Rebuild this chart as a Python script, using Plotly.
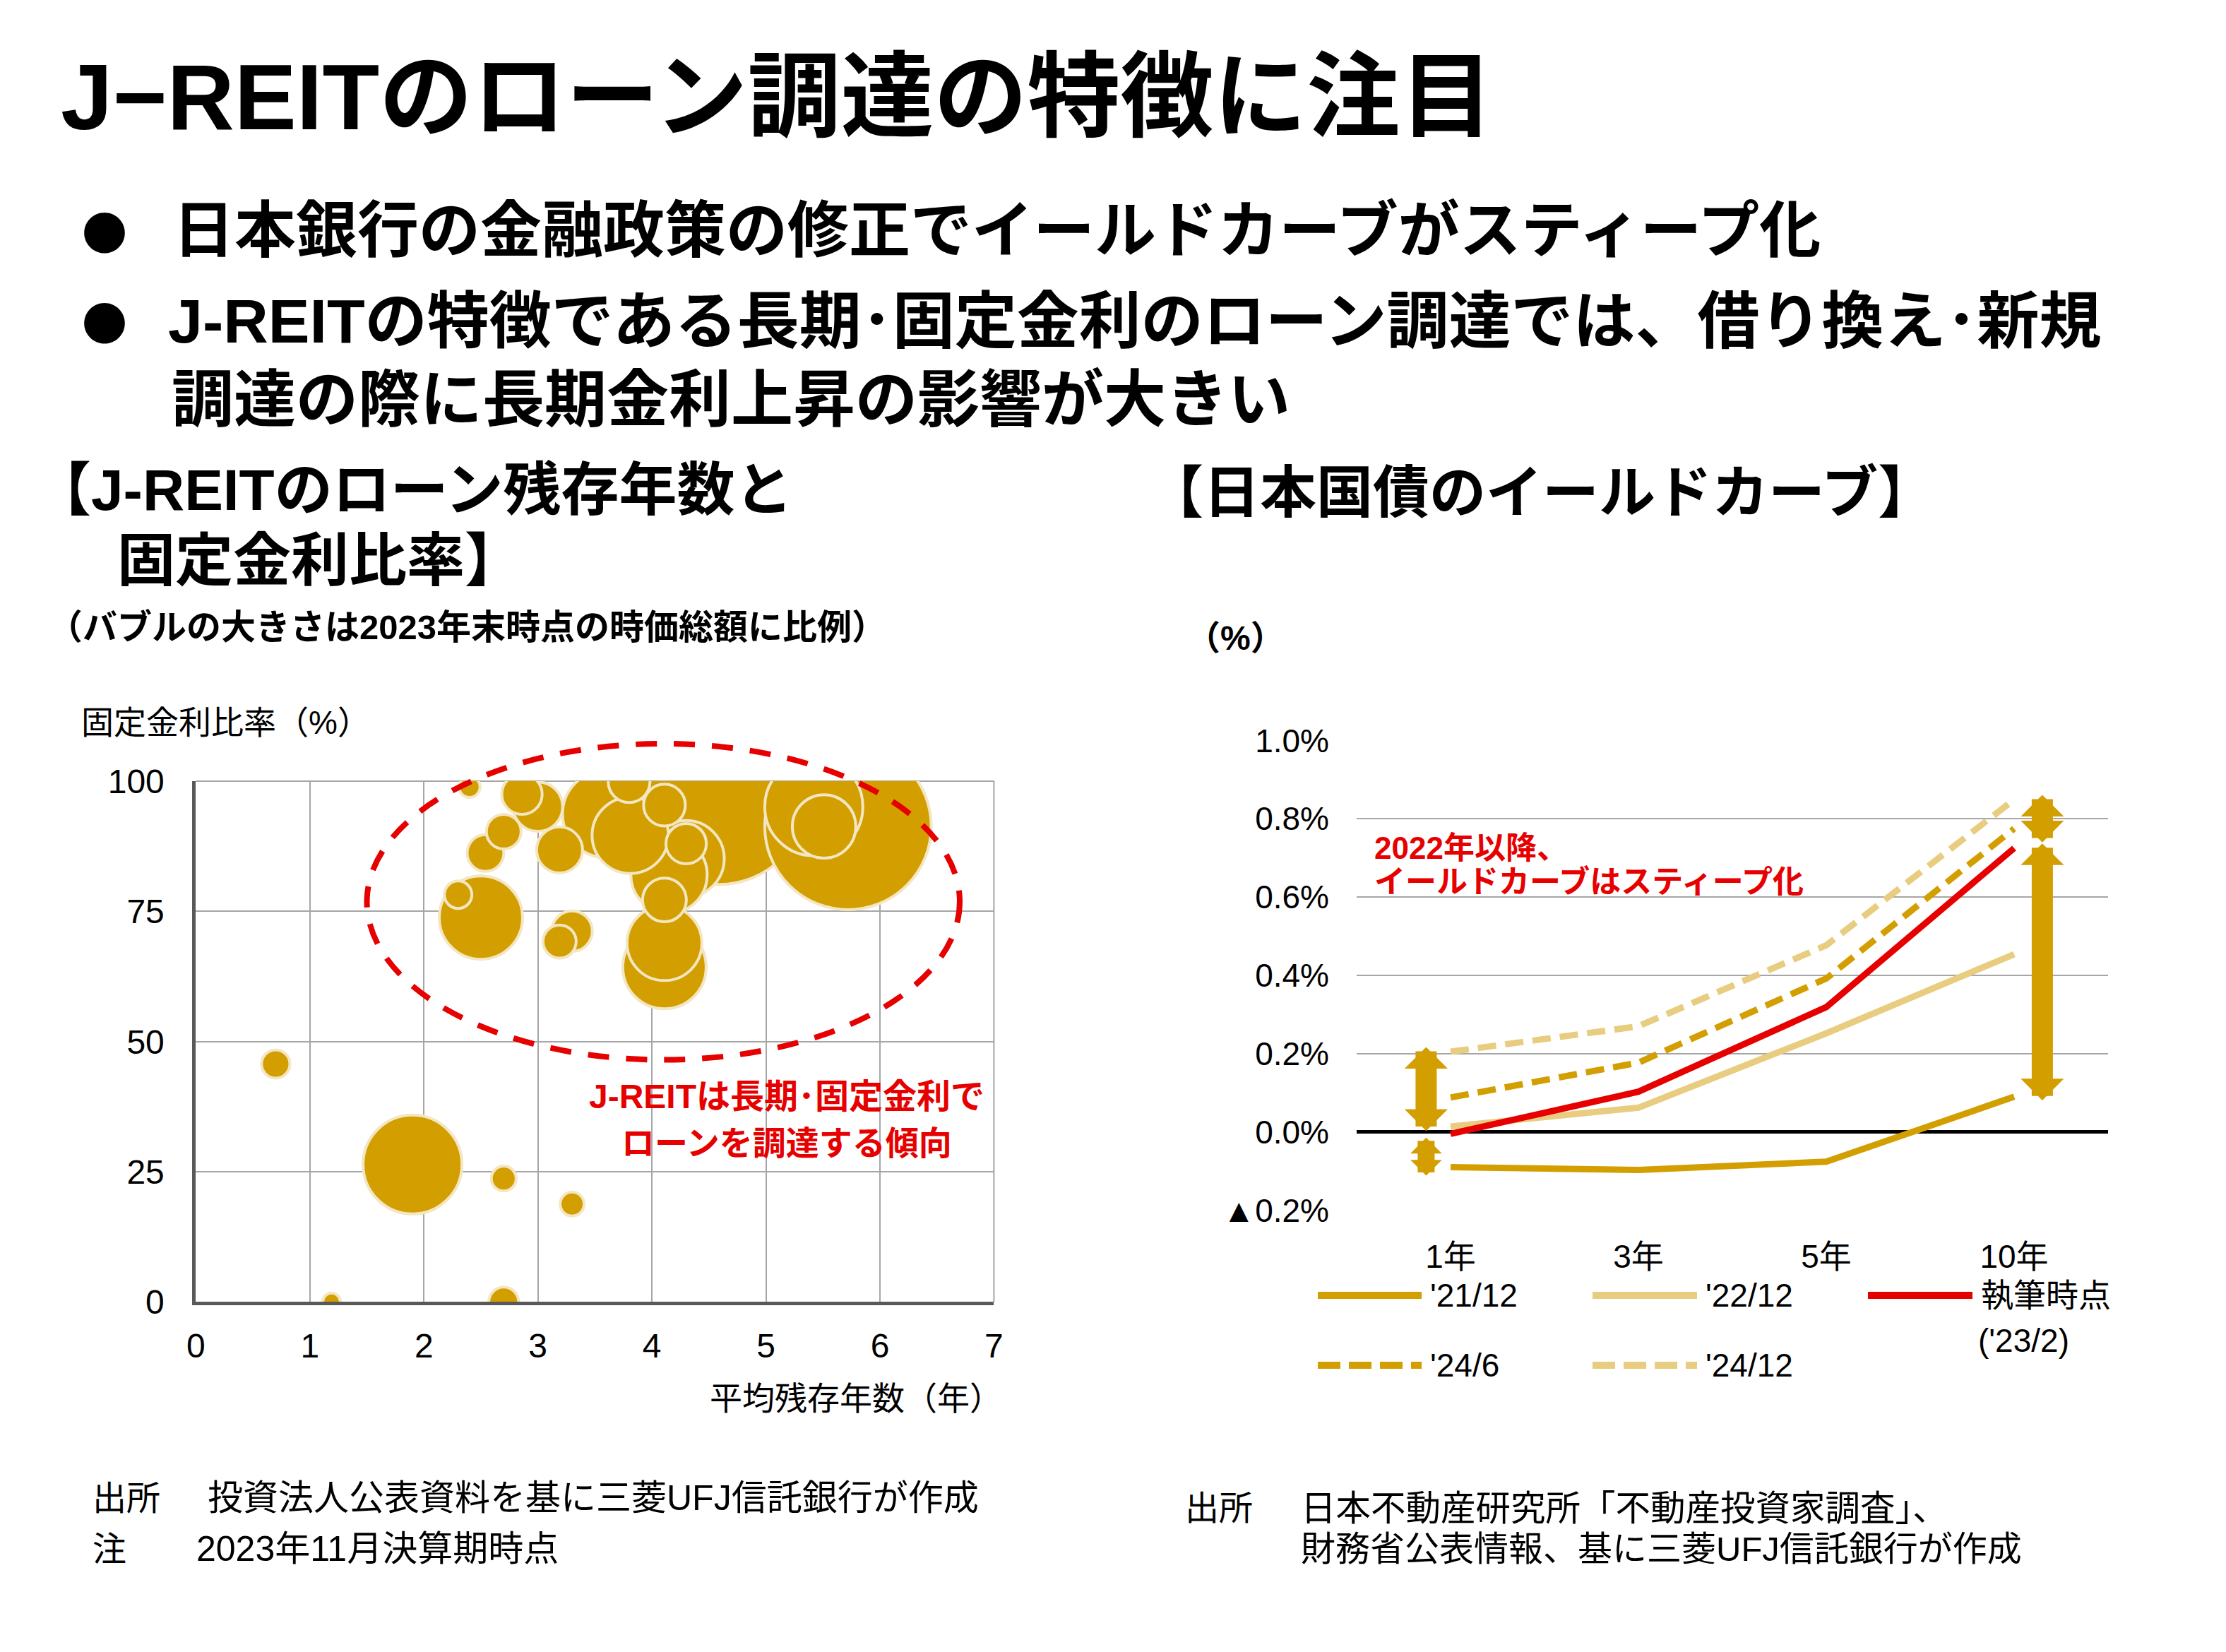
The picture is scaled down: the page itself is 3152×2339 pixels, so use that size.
import plotly.graph_objects as go

W, H = 3152, 2339
OFF = 8  # page body margin compensation (px)
FONT = "Liberation Sans, Noto Sans CJK JP, sans-serif"
CJK = "Noto Sans CJK JP, sans-serif"
GOLD = "#D39E00"
LIGHT_GOLD = "#E8CC7F"
RED = "#E60000"
CREAM = "#F3E6C2"
GRID = "#A6A6A6"
AXIS = "#595959"

# ---------------- Bubble chart data (J-REIT) ----------------
loan_years = [0.70, 1.90, 2.70, 3.30, 1.19, 2.70,
              2.40, 2.50, 2.30, 2.54, 2.70, 3.00, 2.86, 3.19, 3.30, 3.19,
              3.60, 3.80, 4.11, 4.59, 5.42, 5.51, 5.72,
              4.30, 4.30, 4.11, 4.11, 4.11, 4.15, 3.81]
fixed_ratio = [45.7, 26.4, 23.7, 18.8, 0.0, 0.0,
               98.9, 73.8, 78.2, 86.2, 90.3, 95.1, 97.5, 86.8, 71.2, 69.2,
               93.7, 99.9, 95.4, 97.2, 95.1, 91.3, 91.3,
               85.1, 88.0, 77.2, 68.9, 64.3, 82.0, 89.6]
market_cap = [280, 3420, 215, 200, 110, 310,
              155, 2430, 265, 470, 420, 855, 570, 740, 570, 385,
              2680, 610, 610, 11000, 3370, 1410, 9700,
              2040, 570, 670, 1960, 2430, 2040, 2040]
bubble_xticks = [0, 1, 2, 3, 4, 5, 6, 7]
bubble_yticks = [0, 25, 50, 75, 100]

# ---------------- Yield curve data (JGB) ----------------
tenors = ["1年", "3年", "5年", "10年"]
yc_2112 = [-0.090, -0.097, -0.076, 0.090]
yc_2212 = [0.014, 0.062, 0.252, 0.454]
yc_now = [-0.005, 0.103, 0.319, 0.725]
yc_2406 = [0.088, 0.177, 0.392, 0.775]
yc_2412 = [0.205, 0.270, 0.477, 0.849]
yc_tickvals = [-0.2, 0.0, 0.2, 0.4, 0.6, 0.8, 1.0]
yc_ticktext = ["▲0.2%", "0.0%", "0.2%", "0.4%", "0.6%", "0.8%", "1.0%"]

fig = go.Figure()

# bubbles: larger drawn first so smaller ones stay visible on top
order = sorted(range(len(market_cap)), key=lambda i: -market_cap[i])
SIZEREF = 2.0 * max(market_cap) / (251.0 ** 2)
fig.add_trace(go.Scatter(
    x=[loan_years[i] for i in order],
    y=[fixed_ratio[i] for i in order],
    mode="markers",
    marker=dict(size=[market_cap[i] for i in order], sizemode="area", sizeref=SIZEREF,
                color=GOLD, opacity=1, line=dict(color=CREAM, width=4)),
    xaxis="x", yaxis="y", showlegend=False, hoverinfo="skip", cliponaxis=True,
))

DASH_LINE = "26px,13px"
series = [
    ("'21/12", yc_2112, GOLD, "solid"),
    ("'22/12", yc_2212, LIGHT_GOLD, "solid"),
    ("'24/6", yc_2406, GOLD, DASH_LINE),
    ("'24/12", yc_2412, LIGHT_GOLD, DASH_LINE),
    ("執筆時点('23/2)", yc_now, RED, "solid"),
]
for name, vals, color, dash in series:
    fig.add_trace(go.Scatter(
        x=tenors, y=vals, mode="lines", name=name,
        line=dict(color=color, width=9, dash=dash),
        xaxis="x2", yaxis="y2", showlegend=False, hoverinfo="skip",
    ))

ann = []
shapes = []


def px_x(x):
    return (x - OFF) / W


def px_y(y):
    return 1 - (y - OFF) / H


def text(x, y, s, size, bold=False, color="black", xanchor="left", yanchor="middle", family=FONT):
    ann.append(dict(x=px_x(x), y=px_y(y), xref="paper", yref="paper",
                    text=("<b>%s</b>" % s) if bold else s, showarrow=False,
                    xanchor=xanchor, yanchor=yanchor,
                    font=dict(size=size, color=color, family=family)))


# header texts
text(84, 137, "J−REITのローン調達の特徴に注目", 132, bold=True)
text(114, 326, "●", 64, family=CJK)
text(243, 326, "日本銀行の金融政策の修正でイールドカーブがスティープ化", 87, bold=True)
text(114, 454, "●", 64, family=CJK)
text(236, 454, "J-REITの特徴である長期･固定金利のローン調達では、借り換え･新規", 88, bold=True)
text(241, 565, "調達の際に長期金利上昇の影響が大きい", 88, bold=True)

text(45, 693, "【J-REITのローン残存年数と", 82, bold=True)
text(164, 794, "固定金利比率】", 82, bold=True)
text(1622, 697, "【日本国債のイールドカーブ】", 80, bold=True)
text(66, 888, "（バブルの大きさは2023年末時点の時価総額に比例）", 49, bold=True)
text(113, 1023, "固定金利比率（%）", 46)
text(1421, 1980, "平均残存年数（年）", 46, xanchor="right")
text(1749, 903, "（%）", 48, bold=True, xanchor="center")

# red callouts
text(1114, 1552, "J-REITは長期･固定金利で", 48, bold=True, color=RED, xanchor="center")
text(1114, 1618, "ローンを調達する傾向", 47, bold=True, color=RED, xanchor="center")
text(1944, 1200, "2022年以降、", 44, bold=True, color=RED)
text(1944, 1248, "イールドカーブはスティープ化", 44, bold=True, color=RED)

# sources
text(129, 2121, "出所", 48)
text(292, 2121, "投資法人公表資料を基に三菱UFJ信託銀行が作成", 50)
text(129, 2193, "注", 48)
text(276, 2193, "2023年11月決算期時点", 50)
text(1676, 2135, "出所", 48)
text(1840, 2135, "日本不動産研究所「不動産投資家調査」、", 49.5)
text(1840, 2193, "財務省公表情報、基に三菱UFJ信託銀行が作成", 49)

# custom legend for yield curves
legend_items = [
    ("'21/12", GOLD, "solid", 1866, 2013, 1834),
    ("'22/12", LIGHT_GOLD, "solid", 2255, 2403, 1834),
    ("執筆時点", RED, "solid", 2645, 2793, 1834),
    ("'24/6", GOLD, "32px,12px", 1866, 2013, 1933),
    ("'24/12", LIGHT_GOLD, "32px,12px", 2255, 2403, 1933),
]
for label, color, dash, x0, x1, y in legend_items:
    shapes.append(dict(type="line", xref="paper", yref="paper",
                       x0=px_x(x0), x1=px_x(x1), y0=px_y(y), y1=px_y(y),
                       line=dict(color=color, width=10, dash=dash)))
    text(x1 + 10, y, label, 46)
text(2799, 1898, "('23/2)", 46)

# bubble chart border (top/right grid edges)
shapes.append(dict(type="line", xref="x domain", yref="y domain", x0=0, x1=1, y0=1, y1=1,
                   line=dict(color=GRID, width=2), layer="below"))
shapes.append(dict(type="line", xref="x domain", yref="y domain", x0=1, x1=1, y0=0, y1=1,
                   line=dict(color=GRID, width=2), layer="below"))

# dashed ellipse around the high fixed-rate cluster (in data units -> domain fraction)
ell_x = (1.50, 6.70)
ell_y = (46.5, 107.2)
shapes.append(dict(type="circle", xref="x domain", yref="y domain",
                   x0=ell_x[0] / 7, x1=ell_x[1] / 7, y0=ell_y[0] / 100, y1=ell_y[1] / 100,
                   line=dict(color=RED, width=8, dash="30px,24px"), layer="above"))

# double-headed arrows on the yield curve chart
PAD = 0.012
arrows = [
    (-0.13, yc_now[0] + 0.005, yc_2412[0] + PAD, 30, 0.34),
    (-0.13, -PAD, yc_2112[0] - 1.8 * PAD, 24, 0.31),
    (3.15, yc_2112[3] - PAD, yc_now[3] + PAD, 30, 0.34),
    (3.15, yc_now[3] + PAD, yc_2412[3] + PAD, 30, 0.34),
]
for x, y0, y1, w, s in arrows:
    ann.append(dict(x=x, y=y1, ax=x, ay=y0, xref="x2", yref="y2", axref="x2", ayref="y2",
                    text="", showarrow=True, arrowhead=1, startarrowhead=1,
                    arrowside="end+start", arrowwidth=w, arrowsize=s, startarrowsize=s,
                    arrowcolor=GOLD, standoff=0, startstandoff=0))

tickfont = dict(size=48, family=FONT, color="black")
fig.update_layout(
    width=W, height=H, margin=dict(l=0, r=0, t=0, b=0, pad=0, autoexpand=False),
    paper_bgcolor="white", plot_bgcolor="white", showlegend=False,
    xaxis=dict(domain=[px_x(277.4), px_x(1407.4)], range=[0, 7], tickvals=bubble_xticks,
               showgrid=True, gridcolor=GRID, gridwidth=2, zeroline=False,
               showline=True, linecolor=AXIS, linewidth=5, ticks="", automargin=False,
               tickfont=tickfont, ticklabelstandoff=16, anchor="y", fixedrange=True),
    yaxis=dict(domain=[px_y(1843.4), px_y(1106)], range=[0, 100], tickvals=bubble_yticks,
               showgrid=True, gridcolor=GRID, gridwidth=2, zeroline=False,
               showline=True, linecolor=AXIS, linewidth=5, ticks="", automargin=False,
               tickfont=tickfont, ticklabelstandoff=30, anchor="x", fixedrange=True),
    xaxis2=dict(domain=[px_x(1921), px_x(2985)], type="category", range=[-0.5, 3.5],
                showgrid=False, zeroline=False, showline=False, ticks="", automargin=False,
                tickfont=dict(size=46, family=FONT, color="black"),
                ticklabelstandoff=34, anchor="y2", fixedrange=True),
    yaxis2=dict(domain=[px_y(1714), px_y(1048)], range=[-0.2008, 1.0008],
                tickvals=yc_tickvals, ticktext=yc_ticktext,
                showgrid=True, gridcolor=GRID, gridwidth=2,
                zeroline=True, zerolinecolor="black", zerolinewidth=5, automargin=False,
                showline=False, ticks="", tickfont=dict(size=46, family=FONT, color="black"),
                ticklabelstandoff=38, anchor="x2", fixedrange=True),
    annotations=ann, shapes=shapes,
)

fig.write_html("out.html")
